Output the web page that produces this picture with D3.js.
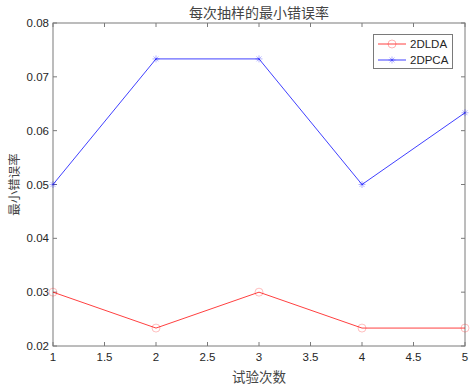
<!DOCTYPE html>
<html><head><meta charset="utf-8">
<script src="https://cdn.jsdelivr.net/npm/d3@7"></script>
<style>
html,body{margin:0;padding:0;background:#fff;}
svg{display:block;}
text{font-family:"Liberation Sans",Arial,sans-serif;fill:#262626;}
.cjk{font-family:"Noto Sans CJK SC","Noto Sans CJK JP",sans-serif;fill:#444;}
</style></head><body>
<script>
const trials = [1, 2, 3, 4, 5];
const lda = [0.03, 0.02333, 0.03, 0.02333, 0.02333];
const pca = [0.05, 0.07333, 0.07333, 0.05, 0.06333];
const xTicks = [1, 1.5, 2, 2.5, 3, 3.5, 4, 4.5, 5];
const yTicks = [0.02, 0.03, 0.04, 0.05, 0.06, 0.07, 0.08];
const seriesNames = ["2DLDA", "2DPCA"];
const title = "每次抽样的最小错误率";
const xLabel = "试验次数";
const yLabel = "最小错误率";

const W = 472, H = 387;
const m = {l: 53, r: 7, t: 23, b: 41};
const svg = d3.select("body").append("svg").attr("width", W).attr("height", H);
const x = d3.scaleLinear().domain([1, 5]).range([m.l, W - m.r]);
const y = d3.scaleLinear().domain([0.02, 0.08]).range([H - m.b, m.t]);
const axisCol = "#7a7a7a";
const tl = 4;

// box
svg.append("rect").attr("x", x(1)).attr("y", y(0.08)).attr("width", x(5) - x(1)).attr("height", y(0.02) - y(0.08))
  .attr("fill", "#fff").attr("stroke", axisCol).attr("stroke-width", 1);

// ticks
const g = svg.append("g");
xTicks.forEach(t => {
  g.append("line").attr("x1", x(t)).attr("x2", x(t)).attr("y1", y(0.02)).attr("y2", y(0.02) - tl).attr("stroke", axisCol);
  g.append("line").attr("x1", x(t)).attr("x2", x(t)).attr("y1", y(0.08)).attr("y2", y(0.08) + tl).attr("stroke", axisCol);
  g.append("text").attr("x", x(t)).attr("y", y(0.02) + 15).attr("text-anchor", "middle").attr("font-size", 11.5).text(d3.format("")(t));
});
yTicks.forEach(t => {
  g.append("line").attr("x1", x(1)).attr("x2", x(1) + tl).attr("y1", y(t)).attr("y2", y(t)).attr("stroke", axisCol);
  g.append("line").attr("x1", x(5)).attr("x2", x(5) - tl).attr("y1", y(t)).attr("y2", y(t)).attr("stroke", axisCol);
  g.append("text").attr("x", x(1) - 4).attr("y", y(t) + 4).attr("text-anchor", "end").attr("font-size", 11.5).text(t.toFixed(2));
});

const line = d3.line().x((d, i) => x(trials[i])).y(d => y(d));
const cols = ["#ff0000", "#0000ff"];

// LDA
svg.append("path").datum(lda).attr("d", line).attr("fill", "none").attr("stroke", cols[0]).attr("stroke-width", 1).attr("stroke-opacity", 0.75);
svg.selectAll(".c").data(lda).enter().append("circle")
  .attr("cx", (d, i) => x(trials[i])).attr("cy", d => y(d)).attr("r", 4)
  .attr("fill", "none").attr("stroke", cols[0]).attr("stroke-opacity", 0.25);

// PCA
svg.append("path").datum(pca).attr("d", line).attr("fill", "none").attr("stroke", cols[1]).attr("stroke-width", 1).attr("stroke-opacity", 0.75);
function star(gg, cx, cy, col) {
  const r = 3.5;
  [[-r,0,r,0],[0,-r,0,r],[-r*0.7,-r*0.7,r*0.7,r*0.7],[-r*0.7,r*0.7,r*0.7,-r*0.7]].forEach(s => {
    gg.append("line").attr("x1", cx + s[0]).attr("y1", cy + s[1]).attr("x2", cx + s[2]).attr("y2", cy + s[3])
      .attr("stroke", col).attr("stroke-opacity", 0.3);
  });
}
pca.forEach((d, i) => star(svg, x(trials[i]), y(d), cols[1]));

// legend
const lg = svg.append("g");
lg.append("rect").attr("x", 373.5).attr("y", 34.5).attr("width", 79).attr("height", 34).attr("fill", "#fff").attr("stroke", axisCol);
const rows = [44, 60];
seriesNames.forEach((n, i) => {
  lg.append("line").attr("x1", 378).attr("x2", 406).attr("y1", rows[i]).attr("y2", rows[i]).attr("stroke", cols[i]).attr("stroke-opacity", 0.75);
  if (i === 0) lg.append("circle").attr("cx", 392).attr("cy", rows[i]).attr("r", 4).attr("fill", "none").attr("stroke", cols[0]).attr("stroke-opacity", 0.3);
  else star(lg, 392, rows[i], cols[1]);
  lg.append("text").attr("x", 410).attr("y", rows[i] + 4).attr("font-size", 11.5).text(n);
});

// titles
svg.append("text").attr("class", "cjk").attr("x", (x(1) + x(5)) / 2).attr("y", 18).attr("text-anchor", "middle").attr("font-size", 14).text(title);
svg.append("text").attr("class", "cjk").attr("x", (x(1) + x(5)) / 2).attr("y", 382).attr("text-anchor", "middle").attr("font-size", 13.5).text(xLabel);
svg.append("text").attr("class", "cjk").attr("transform", `translate(19,${(y(0.02) + y(0.08)) / 2}) rotate(-90)`).attr("text-anchor", "middle").attr("font-size", 12.5).text(yLabel);
</script>
</body></html>
